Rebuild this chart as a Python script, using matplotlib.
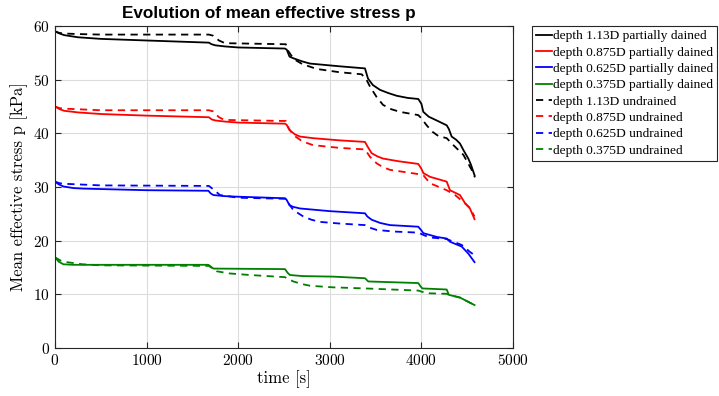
import numpy as np
import matplotlib.pyplot as plt

# time [s] / mean effective stress p [kPa]
t_k_pd = [0, 50, 100, 250, 500, 1000, 1680, 1710, 1750, 1850, 2000, 2510, 2530, 2560, 2600, 2700, 2784, 3100, 3384, 3417, 3470, 3548, 3640, 3730, 3850, 3966, 4000, 4021, 4080, 4167, 4276, 4300, 4330, 4380, 4421, 4458, 4512, 4540, 4580]
p_k_pd = [59.0, 58.6, 58.3, 57.9, 57.6, 57.3, 56.9, 56.6, 56.4, 56.2, 56.0, 55.8, 55.6, 54.3, 54.0, 53.4, 53.0, 52.5, 52.1, 50.2, 49.0, 48.1, 47.5, 47.0, 46.6, 46.4, 45.5, 44.0, 43.1, 42.4, 41.5, 40.8, 39.4, 38.8, 38.1, 36.9, 35.3, 34.2, 32.2]

t_r_pd = [0, 50, 100, 250, 500, 1000, 1680, 1710, 1750, 1850, 2000, 2510, 2529, 2560, 2620, 2675, 2817, 3100, 3384, 3410, 3457, 3520, 3581, 3750, 3966, 4000, 4021, 4094, 4276, 4312, 4421, 4476, 4530, 4580]
p_r_pd = [45.0, 44.5, 44.2, 43.9, 43.6, 43.3, 43.0, 42.6, 42.4, 42.2, 42.0, 41.8, 41.6, 40.6, 39.8, 39.4, 39.1, 38.7, 38.4, 37.6, 36.3, 35.7, 35.3, 34.8, 34.3, 33.4, 32.6, 31.9, 31.0, 29.4, 28.5, 27.0, 26.0, 24.0]

t_b_pd = [0, 40, 91, 200, 309, 1001, 1674, 1700, 1729, 1850, 1983, 2511, 2529, 2560, 2600, 2675, 3000, 3384, 3410, 3457, 3550, 3657, 3966, 4000, 4021, 4167, 4276, 4312, 4440, 4512, 4580]
p_b_pd = [31.0, 30.5, 30.1, 29.8, 29.7, 29.4, 29.3, 28.8, 28.5, 28.3, 28.2, 27.9, 27.6, 26.6, 26.3, 26.0, 25.5, 25.1, 24.5, 23.9, 23.3, 22.9, 22.6, 21.9, 21.4, 20.7, 20.4, 19.8, 18.9, 17.6, 16.0]

t_g_pd = [0, 40, 91, 200, 500, 1674, 1729, 2511, 2540, 2566, 2700, 3038, 3384, 3420, 3966, 3990, 4010, 4276, 4300, 4421, 4580]
p_g_pd = [16.9, 16.1, 15.6, 15.5, 15.5, 15.5, 14.8, 14.7, 14.0, 13.6, 13.4, 13.3, 13.0, 12.4, 12.1, 11.5, 11.1, 10.9, 9.9, 9.4, 8.0]

t_k_ud = [0, 50, 100, 250, 500, 1680, 1725, 1790, 1856, 2520, 2540, 2580, 2620, 2700, 2857, 3100, 3348, 3400, 3439, 3510, 3581, 3670, 3766, 3966, 4000, 4057, 4120, 4185, 4276, 4349, 4458, 4549, 4585]
p_k_ud = [59.0, 58.7, 58.6, 58.5, 58.4, 58.4, 58.2, 57.3, 56.8, 56.6, 55.5, 54.5, 53.7, 52.9, 52.0, 51.4, 51.0, 50.0, 48.7, 46.8, 45.3, 44.5, 44.0, 43.4, 42.8, 41.5, 40.3, 39.5, 39.1, 37.8, 36.0, 33.2, 31.8]

t_r_ud = [0, 50, 100, 500, 1680, 1725, 1790, 1850, 2520, 2550, 2600, 2700, 2817, 3100, 3384, 3440, 3512, 3580, 3657, 3966, 4021, 4094, 4276, 4367, 4460, 4530, 4580]
p_r_ud = [45.0, 44.7, 44.6, 44.3, 44.3, 44.1, 43.0, 42.5, 42.3, 41.0, 39.7, 38.5, 37.8, 37.3, 37.0, 35.6, 34.4, 33.7, 33.2, 32.4, 32.2, 30.7, 29.4, 28.5, 27.2, 26.1, 24.5]

t_b_ud = [0, 50, 100, 500, 1680, 1740, 1801, 2000, 2520, 2560, 2602, 2711, 2800, 2893, 3100, 3384, 3440, 3512, 3700, 3966, 4030, 4094, 4276, 4440, 4530, 4580]
p_b_ud = [31.0, 30.7, 30.6, 30.3, 30.2, 29.4, 28.5, 28.0, 27.8, 26.7, 25.7, 24.5, 23.9, 23.5, 23.2, 22.9, 22.4, 22.0, 21.7, 21.5, 21.0, 20.6, 20.3, 19.2, 17.9, 17.3]

t_g_ud = [0, 60, 127, 300, 500, 1680, 1720, 1765, 1900, 2129, 2511, 2550, 2602, 2700, 2784, 3038, 3384, 3966, 4057, 4276, 4300, 4421, 4580]
p_g_ud = [16.9, 16.3, 16.0, 15.6, 15.4, 15.3, 14.8, 14.3, 13.9, 13.6, 13.2, 12.8, 12.4, 11.9, 11.6, 11.3, 11.1, 10.7, 10.2, 10.1, 9.9, 9.4, 8.0]

labels = ['depth 1.13D partially dained', 'depth 0.875D partially dained',
          'depth 0.625D partially dained', 'depth 0.375D partially dained',
          'depth 1.13D undrained', 'depth 0.875D undrained',
          'depth 0.625D undrained', 'depth 0.375D undrained']

plt.rcParams['axes.formatter.use_mathtext'] = True

fig = plt.figure(figsize=(7.19, 3.96), dpi=100)
ax = fig.add_axes([55/719, 1-348/396, 458/719, 322/396])

cols = ['black', 'red', 'blue', 'green']
solid = [(t_k_pd, p_k_pd), (t_r_pd, p_r_pd), (t_b_pd, p_b_pd), (t_g_pd, p_g_pd)]
dash = [(t_k_ud, p_k_ud), (t_r_ud, p_r_ud), (t_b_ud, p_b_ud), (t_g_ud, p_g_ud)]
for (t, p), c in zip(solid, cols):
    ax.plot(t, p, color=c, lw=1.3)
for (t, p), c in zip(dash, cols):
    ax.plot(t, p, color=c, lw=1.3, dashes=(4, 3))

ax.set_xlim(0, 5000)
ax.set_ylim(0, 60)
ax.set_xticks([0, 1000, 2000, 3000, 4000, 5000])
ax.set_yticks([0, 10, 20, 30, 40, 50, 60])
ax.grid(True, color='#dcdcdc', lw=0.8)
ax.set_axisbelow(True)
ax.tick_params(direction='in', top=True, right=True, length=4, color='#262626', labelsize=11)
for lab in ax.get_xticklabels() + ax.get_yticklabels():
    lab.set_fontfamily('cmr10')
for s in ax.spines.values():
    s.set_color('#262626')
    s.set_linewidth(0.8)

ax.set_xlabel('time [s]', family='cmr10', fontsize=12, labelpad=2)
ax.set_ylabel('Mean effective stress p [kPa]', family='cmr10', fontsize=12, labelpad=4)
ax.set_title('Evolution of mean effective stress p', family='Liberation Sans',
             fontweight='bold', fontsize=12.3, pad=6, x=0.467)

leg = ax.legend(labels, loc='upper left', bbox_to_anchor=(532/719, 1-26/396),
                bbox_transform=fig.transFigure, prop={'family': 'Liberation Serif', 'size': 9.6},
                handlelength=1.2, handletextpad=0.1, labelspacing=0.3,
                borderpad=0.3, borderaxespad=0, fancybox=False, framealpha=1)
leg.get_frame().set_edgecolor('#262626')
leg.get_frame().set_linewidth(0.8)

fig.savefig('out.png', dpi=100)
